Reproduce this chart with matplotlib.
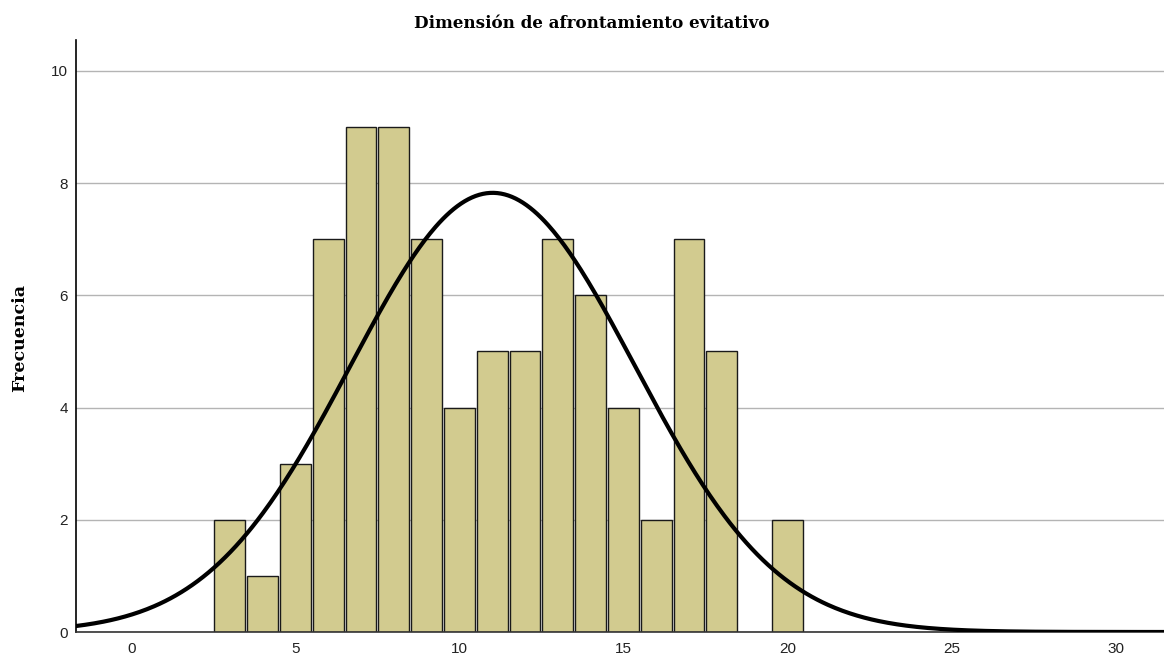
import numpy as np
import matplotlib
matplotlib.use("Agg")
import matplotlib.pyplot as plt

# Data
values = [3, 4, 5, 6, 7, 8, 9, 10, 11, 12, 13, 14, 15, 16, 17, 18, 20]
counts = [2, 1, 3, 7, 9, 9, 7, 4, 5, 5, 7, 6, 4, 2, 7, 5, 2]
xticks = [0, 5, 10, 15, 20, 25, 30]
yticks = [0, 2, 4, 6, 8, 10]
title = "Dimensión de afrontamiento evitativo"
ylabel = "Frecuencia"

vals = np.array(values, dtype=float)
cnts = np.array(counts, dtype=float)
n = cnts.sum()
mean = (vals * cnts).sum() / n
sd = np.sqrt(((vals - mean) ** 2 * cnts).sum() / (n - 1))

fig = plt.figure(figsize=(11.64, 6.56), dpi=100)
ax = fig.add_axes([76 / 1164, 24 / 656, 1 - 76 / 1164, (632 - 40) / 656])

ax.set_xlim(-1.69, 31.48)
ax.set_ylim(0, 10.55)

ax.set_axisbelow(True)
ax.yaxis.grid(True, color="#b4b4b4", linewidth=1.0)
ax.xaxis.grid(False)

ax.bar(values, counts, width=0.94, color="#d2cb8f", edgecolor="#1a1a1a", linewidth=1.0, zorder=2)

xs = np.linspace(-1.69, 31.48, 600)
ys = n * 1.0 / (sd * np.sqrt(2 * np.pi)) * np.exp(-0.5 * ((xs - mean) / sd) ** 2)
ax.plot(xs, ys, color="black", linewidth=3.0, zorder=3, solid_capstyle="round")

for s in ["top", "right"]:
    ax.spines[s].set_visible(False)
ax.spines["left"].set_color("black")
ax.spines["bottom"].set_color("#333333")
ax.spines["left"].set_linewidth(1.2)
ax.spines["bottom"].set_linewidth(1.2)

ax.set_xticks(xticks)
ax.set_yticks(yticks)
for lab in ax.get_xticklabels() + ax.get_yticklabels():
    lab.set_family("Liberation Sans")
ax.tick_params(axis="both", length=0, labelsize=11, colors="#222222")
ax.tick_params(axis="x", pad=7)
ax.tick_params(axis="y", pad=6)

fig.text(592 / 1164, 1 - 24 / 656, title, ha="center", va="center",
         fontsize=12.1, fontweight="bold", family="DejaVu Serif")
fig.text(20 / 1164, 1 - 338 / 656, ylabel, ha="center", va="center", rotation=90,
         fontsize=12.5, fontweight="bold", family="DejaVu Serif")

fig.savefig("out.png", dpi=100)
